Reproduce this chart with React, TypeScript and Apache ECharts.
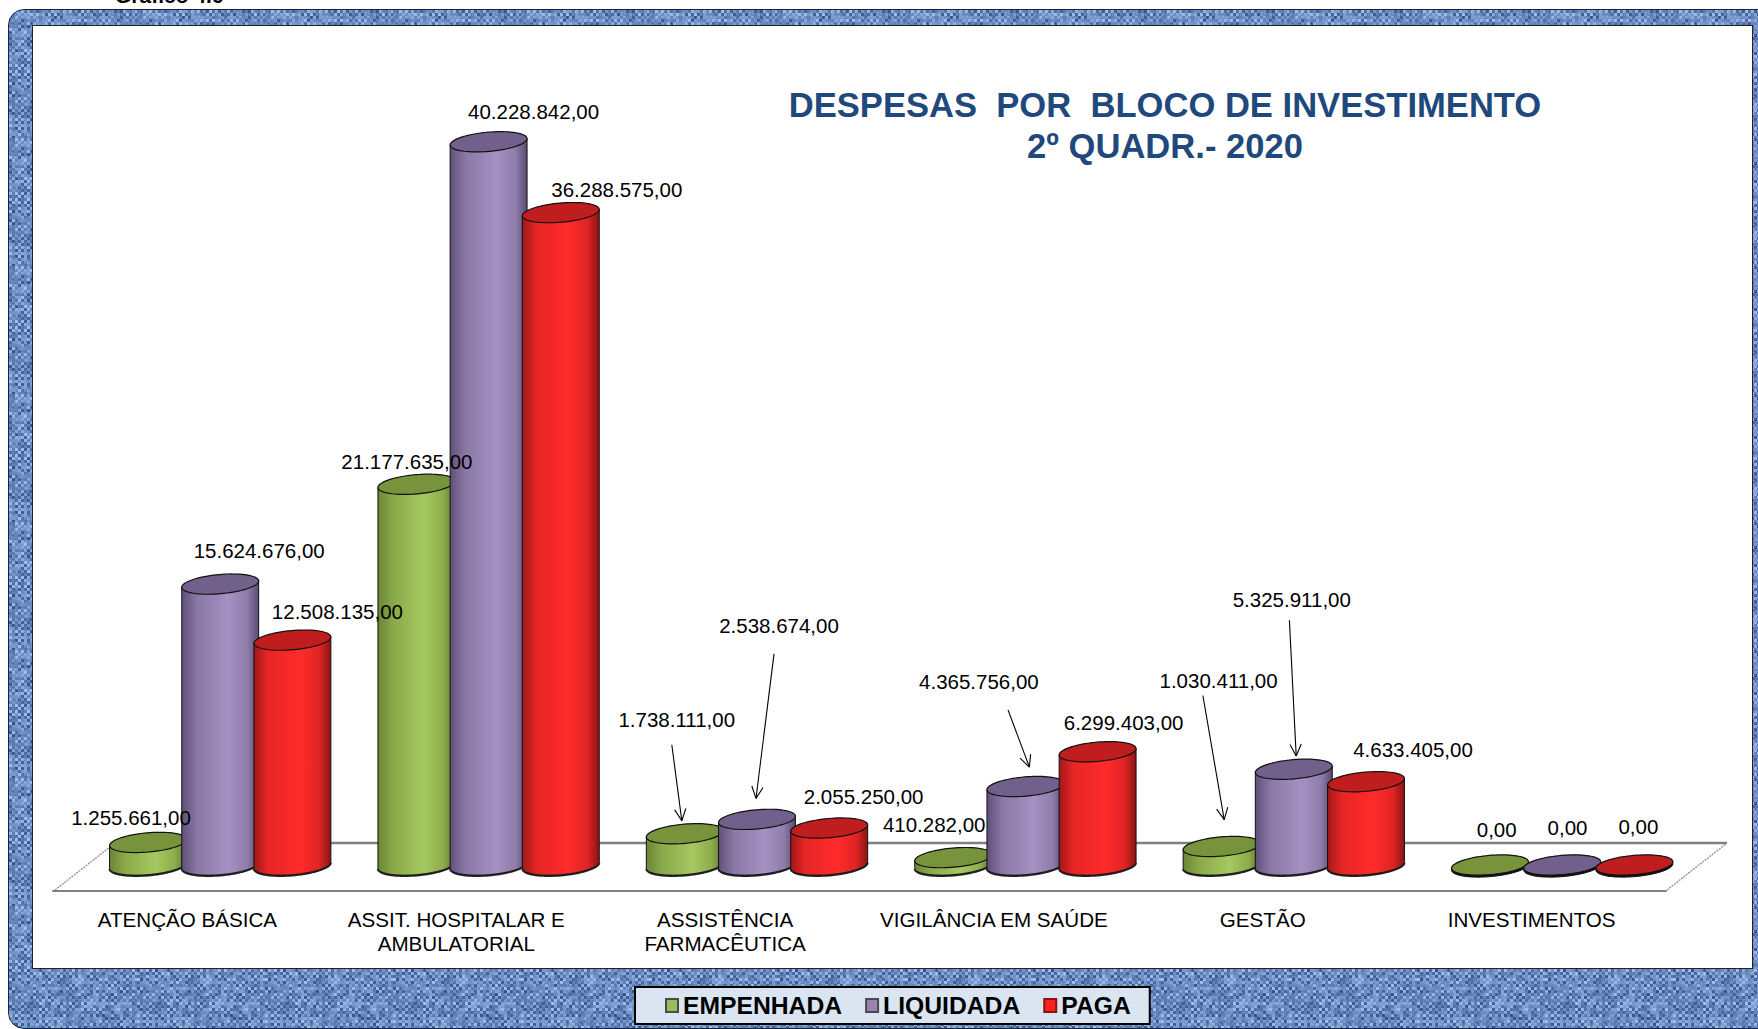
import React, { useEffect, useMemo, useRef } from "react";
import * as echarts from "echarts";

const categories = [
  "ATENÇÃO BÁSICA",
  "ASSIT. HOSPITALAR E\nAMBULATORIAL",
  "ASSISTÊNCIA\nFARMACÊUTICA",
  "VIGILÂNCIA EM SAÚDE",
  "GESTÃO",
  "INVESTIMENTOS",
];
const empenhada = [1255661, 21177635, 1738111, 410282, 1030411, 0];
const liquidada = [15624676, 40228842, 2538674, 4365756, 5325911, 0];
const paga = [12508135, 36288575, 2055250, 6299403, 4633405, 0];

// Manual placement of the data labels, relative to the top centre of each bar
const offsetsEmpenhada = [[-17, -25], [-9.5, -23], [-8, -114], [-19, -33], [-3, -166], [6.7, -36]];
const offsetsLiquidada = [[39, -34], [45, -30], [22, -193.5], [-46.5, -104.6], [-2, -170], [5.3, -37.4]];
const offsetsPaga = [[45, -29], [56, -23], [34.4, -32], [26, -29.4], [47, -32.6], [4, -38.6]];

// Leader arrows [startDx, startDy, endDx, endDy] relative to the same point
const leadersEmpenhada = [null, null, [-13, -89, -3, -13], null, [-18.7, -151, 2.6, -26.8], null];
const leadersLiquidada = [null, null, [17, -165.5, -1, -21], [-17.4, -76.6, 4, -19.4], [-4.4, -149, 2.4, -13.3], null];
const leadersPaga = [null, null, null, null, null, null];

const FONT = '"Liberation Sans", Arial, sans-serif';
const THETA = (-5 * Math.PI) / 180;
const PITCH = 72.2 / 268.4;
const RX = 38.6 / 268.4;
const RY = 9.6;

function formatBR(v: number) {
  const s = String(Math.round(v)).replace(/\B(?=(\d{3})+(?!\d))/g, ".");
  return s + ",00";
}

function ellipsePt(cx: number, cy: number, rx: number, t: number): [number, number] {
  const a = rx * Math.cos(t);
  const b = RY * Math.sin(t);
  return [cx + a * Math.cos(THETA) - b * Math.sin(THETA), cy + a * Math.sin(THETA) + b * Math.cos(THETA)];
}

function cylinderItem(offsetIdx: number, stops: any[], topColor: string, offsets: number[][], leaders: any[]) {
  const layer = (offsetIdx + 1) * 10;
  return (_params: any, api: any) => {
    const i = api.value(0);
    const v = api.value(1);
    const band = api.size([1, 0])[0];
    const top = api.coord([i, v]);
    const base = api.coord([i, 0]);
    const cx = top[0] + offsetIdx * PITCH * band;
    const rx = RX * band;
    const t0 = Math.atan((-RY / rx) * Math.tan(THETA));
    const N = 40;
    const arc: [number, number][] = [];
    for (let k = 0; k <= N; k++) arc.push(ellipsePt(cx, base[1], rx, t0 + (Math.PI * k) / N));
    const shade = arc.map((p) => [p[0], p[1] + 0.8]);
    const topPts: [number, number][] = [];
    for (let k = 0; k < 2 * N; k++) topPts.push(ellipsePt(cx, top[1], rx, (Math.PI * k) / N));
    const body = [...arc, ellipsePt(cx, top[1], rx, t0 + Math.PI), ellipsePt(cx, top[1], rx, t0)];
    const children: any[] = [];
    if (v > 0) {
      children.push({
        type: "polyline",
        shape: { points: shade },
        style: { stroke: "#222", lineWidth: 2, fill: "none" },
        z2: layer,
      });
      children.push({
        type: "polygon",
        shape: { points: body },
        style: {
          fill: new echarts.graphic.LinearGradient(0, 0, 1, 0, stops),
          stroke: "#111",
          lineWidth: 1,
        },
        z2: layer + 1,
      });
    } else {
      const under = topPts.map((p) => [p[0], p[1] + 2]);
      children.push({ type: "polygon", shape: { points: under }, style: { fill: "#111", stroke: "#111", lineWidth: 1 }, z2: layer });
    }
    children.push({
      type: "polygon",
      shape: { points: topPts },
      style: { fill: topColor, stroke: "#111", lineWidth: 1.2 },
      z2: layer + 2,
    });
    const off = offsets[i];
    children.push({
      type: "text",
      z2: 100,
      style: {
        text: formatBR(v),
        x: cx + off[0],
        y: top[1] + off[1],
        align: "center",
        verticalAlign: "middle",
        fontFamily: FONT,
        fontSize: 20.5,
        fill: "#000",
      },
    });
    const l = leaders[i];
    if (l) {
      const x1 = cx + l[0];
      const y1 = top[1] + l[1];
      const x2 = cx + l[2];
      const y2 = top[1] + l[3];
      const ang = Math.atan2(y2 - y1, x2 - x1);
      const head = 13;
      const spread = 0.45;
      const ln = (a: number, b: number, c: number, d: number) => ({
        type: "line",
        z2: 100,
        shape: { x1: a, y1: b, x2: c, y2: d },
        style: { stroke: "#000", lineWidth: 1.1 },
      });
      children.push(ln(x1, y1, x2, y2));
      children.push(ln(x2, y2, x2 - head * Math.cos(ang - spread), y2 - head * Math.sin(ang - spread)));
      children.push(ln(x2, y2, x2 - head * Math.cos(ang + spread), y2 - head * Math.sin(ang + spread)));
    }
    return { type: "group", children };
  };
}

function makeTexture() {
  const S = 128;
  const c = document.createElement("canvas");
  c.width = S;
  c.height = S;
  const ctx = c.getContext("2d")!;
  const img = ctx.createImageData(S, S);
  const hash = (x: number, y: number) => {
    const n = Math.sin(x * 127.1 + y * 311.7) * 43758.5453;
    return n - Math.floor(n);
  };
  for (let y = 0; y < S; y++) {
    for (let x = 0; x < S; x++) {
      const cellX = Math.floor(x / 3);
      const cellY = Math.floor(y / 3);
      const weave = (cellX + cellY) % 2 === 0 ? 0.7 : 0.4;
      const noise = hash(cellX, cellY) * 0.6 + hash(x, y) * 0.24 - 0.4;
      const t = Math.max(0, Math.min(1, weave + noise));
      const d = (hash(x + 9, y + 4) - 0.5) * 6;
      img.data[(y * S + x) * 4] = 42 + (160 - 42) * t + d;
      img.data[(y * S + x) * 4 + 1] = 72 + (192 - 72) * t + d;
      img.data[(y * S + x) * 4 + 2] = 130 + (240 - 130) * t + d;
      img.data[(y * S + x) * 4 + 3] = 255;
    }
  }
  ctx.putImageData(img, 0, 0);
  return c.toDataURL("image/png");
}

const greenStops = [
  { offset: 0, color: "#6b8635" },
  { offset: 0.2, color: "#8aa94a" },
  { offset: 0.6, color: "#a6c860" },
  { offset: 0.85, color: "#8dac4c" },
  { offset: 1, color: "#5e7730" },
];
const purpleStops = [
  { offset: 0, color: "#5f5078" },
  { offset: 0.2, color: "#8a78a6" },
  { offset: 0.6, color: "#a691c2" },
  { offset: 0.85, color: "#8f7dac" },
  { offset: 1, color: "#5a4b72" },
];
const redStops = [
  { offset: 0, color: "#a01818" },
  { offset: 0.18, color: "#e62525" },
  { offset: 0.6, color: "#ff2b2b" },
  { offset: 0.85, color: "#e02424" },
  { offset: 1, color: "#8a1414" },
];

export default function App() {
  const ref = useRef<HTMLDivElement>(null);
  const texture = useMemo(() => makeTexture(), []);

  useEffect(() => {
    document.body.style.margin = "0";
    const chart = echarts.init(ref.current!, undefined, { renderer: "svg" });
    const mk = (name: string, values: number[], idx: number, color: string, border: string, stops: any[], top: string, offs: number[][], lead: any[]) => ({
      type: "custom",
      name,
      xAxisIndex: 1,
      yAxisIndex: 1,
      clip: false,
      silent: true,
      itemStyle: { color, borderColor: border, borderWidth: 1 },
      encode: { x: 0, y: 1 },
      data: values.map((v, i) => [i, v]),
      renderItem: cylinderItem(idx, stops, top, offs, lead),
    });
    chart.setOption({
      animation: false,
      textStyle: { fontFamily: FONT },
      title: {
        text: "DESPESAS  POR  BLOCO DE INVESTIMENTO\n2º QUADR.- 2020",
        left: 1160,
        top: 79,
        textAlign: "center",
        textStyle: { fontFamily: FONT, fontWeight: "bold", fontSize: 34.6, lineHeight: 41, color: "#1F497D" },
      },
      legend: {
        left: 635,
        top: 987,
        data: ["EMPENHADA", "LIQUIDADA", "PAGA"],
        icon: "rect",
        itemWidth: 12,
        itemHeight: 13,
        itemGap: 23,
        padding: [6, 19, 6, 30],
        backgroundColor: "#DBE5F1",
        borderColor: "#000",
        borderWidth: 2,
        selectedMode: false,
        textStyle: { fontFamily: FONT, fontWeight: "bold", fontSize: 24.7, color: "#000" },
      },
      grid: [
        { left: 53, width: 1613, top: 100, height: 791 },
        { left: 86, width: 1610.4, top: 56, height: 809 },
      ],
      xAxis: [
        {
          type: "category",
          gridIndex: 0,
          data: categories,
          axisTick: { show: false },
          axisLine: { show: true, lineStyle: { color: "#808080", width: 2 } },
          axisLabel: { interval: 0, margin: 17, fontFamily: FONT, fontSize: 20.6, lineHeight: 23.5, color: "#000" },
        },
        { type: "category", gridIndex: 1, data: categories, show: false },
      ],
      yAxis: [
        { type: "value", gridIndex: 0, min: 0, max: 1, show: false },
        { type: "value", gridIndex: 1, min: 0, max: 45000000, show: false },
      ],
      graphic: [
        {
          type: "polyline",
          z: 0,
          shape: { points: [[115, 843], [1727, 843]] },
          style: { stroke: "#808080", lineWidth: 2.5, fill: "none" },
        },
        {
          type: "line",
          z: 0,
          shape: { x1: 55, y1: 890, x2: 115, y2: 843 },
          style: { stroke: "#999", lineWidth: 1.5, lineDash: [2, 1] },
        },
        {
          type: "line",
          z: 0,
          shape: { x1: 1667, y1: 890, x2: 1727, y2: 843 },
          style: { stroke: "#999", lineWidth: 1.5, lineDash: [2, 1] },
        },
        {
          type: "text",
          z: 0,
          x: 115,
          y: -15,
          style: { text: "Gráfico 4.6", fontFamily: FONT, fontWeight: "bold", fontSize: 21, fill: "#000" },
        },
      ],
      series: [
        mk("EMPENHADA", empenhada, -1, "#9BBB59", "#4a4a4a", greenStops, "#77933C", offsetsEmpenhada, leadersEmpenhada),
        mk("LIQUIDADA", liquidada, 0, "#9983B5", "#4a4a4a", purpleStops, "#72608C", offsetsLiquidada, leadersLiquidada),
        mk("PAGA", paga, 1, "#FF2020", "#8a1414", redStops, "#C01E1E", offsetsPaga, leadersPaga),
      ],
    });
    return () => chart.dispose();
  }, []);

  return (
    <div style={{ position: "absolute", left: 0, top: 0, width: 1758, height: 1029, overflow: "hidden", background: "#fff" }}>
      <div
        style={{
          position: "absolute",
          left: 8,
          top: 9,
          width: 1780,
          height: 1018,
          borderRadius: 16,
          border: "1px solid #14233f",
          backgroundImage: `url(${texture})`,
        }}
      />
      <div
        style={{
          position: "absolute",
          left: 32,
          top: 25,
          width: 1719,
          height: 942,
          background: "#fff",
          border: "1px solid #222",
        }}
      />
      <div ref={ref} style={{ position: "absolute", left: 0, top: 0, width: 1758, height: 1029 }} />
    </div>
  );
}
